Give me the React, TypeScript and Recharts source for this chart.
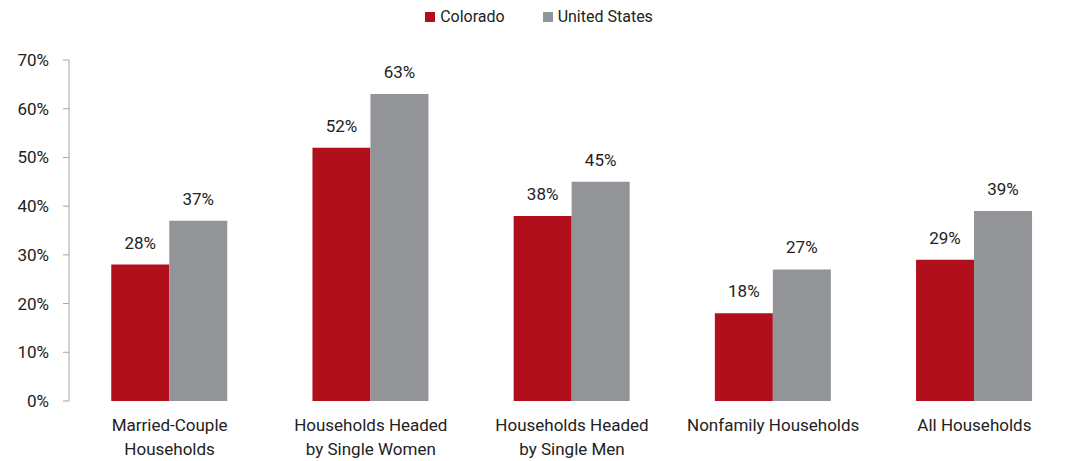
import { BarChart, Bar, XAxis, YAxis, Legend, LabelList } from "recharts"

const categories = [
  ["Married-Couple", "Households"],
  ["Households Headed", "by Single Women"],
  ["Households Headed", "by Single Men"],
  ["Nonfamily Households"],
  ["All Households"],
]
const colorado = [28, 52, 38, 18, 29]
const unitedStates = [37, 63, 45, 27, 39]
const yTicks = [0, 10, 20, 30, 40, 50, 60, 70]
const edgeTicks = [0, 1, 2, 3, 4, 5]

const data = categories.map((lines, i) => ({
  name: lines.join(" "),
  lines,
  colorado: colorado[i],
  us: unitedStates[i],
}))

const FONT = "Roboto, 'Liberation Sans', sans-serif"
const FS = 17
const RED = "#b20f1d"
const GRAY = "#939497"
const AXIS = "#a6a6a6"

function CategoryTick(props: any) {
  const { x, y, payload } = props
  const lines: string[] = data[payload.index]?.lines ?? [payload.value]
  return (
    <text x={x} y={y} textAnchor="middle" fill="#222" fontSize={FS} fontFamily={FONT}>
      {lines.map((l, i) => (
        <tspan key={i} x={x} dy={i === 0 ? 22 : 24}>
          {l}
        </tspan>
      ))}
    </text>
  )
}

function LegendContent() {
  const items = [
    { label: "Colorado", color: RED },
    { label: "United States", color: GRAY },
  ]
  return (
    <div style={{ display: "flex", justifyContent: "center", gap: 38, fontFamily: FONT, fontSize: 16, color: "#222" }}>
      {items.map((it) => (
        <div key={it.label} style={{ display: "flex", alignItems: "center" }}>
          <span style={{ width: 10, height: 10, background: it.color, display: "inline-block", marginRight: 5 }} />
          {it.label}
        </div>
      ))}
    </div>
  )
}

export default function App() {
  return (
    <div style={{ position: "absolute", left: 0, top: 0, background: "#fff" }}>
      <BarChart
        width={1078}
        height={461}
        data={data}
        margin={{ top: 41, right: 3, left: 0, bottom: 0 }}
        barCategoryGap="21%"
        barGap={0}
      >
        <Legend
          verticalAlign="top"
          content={<LegendContent />}
          wrapperStyle={{ top: 7, left: 0, width: 1078 }}
        />
        <XAxis
          dataKey="name"
          interval={0}
          axisLine={false}
          tickLine={false}
          height={60}
          tick={<CategoryTick />}
        />
        <XAxis
          xAxisId="edges"
          type="number"
          domain={[0, 5]}
          ticks={edgeTicks}
          height={0}
          stroke={AXIS}
          tickSize={6}
          tick={() => <g />}
          allowDataOverflow
        />
        <YAxis
          domain={[0, 70]}
          ticks={yTicks}
          width={69}
          stroke={AXIS}
          tickSize={6}
          tickFormatter={(v: number) => `${v}%`}
          tick={{ fill: "#222", fontSize: FS, fontFamily: FONT, dx: -12 }}
        />
        <Bar dataKey="colorado" name="Colorado" fill={RED} isAnimationActive={false}>
          <LabelList dataKey="colorado" position="top" offset={16} formatter={(v: any) => `${v}%`} style={{ fill: "#222", fontSize: FS, fontFamily: FONT }} />
        </Bar>
        <Bar dataKey="us" name="United States" fill={GRAY} isAnimationActive={false}>
          <LabelList dataKey="us" position="top" offset={16} formatter={(v: any) => `${v}%`} style={{ fill: "#222", fontSize: FS, fontFamily: FONT }} />
        </Bar>
      </BarChart>
    </div>
  )
}
